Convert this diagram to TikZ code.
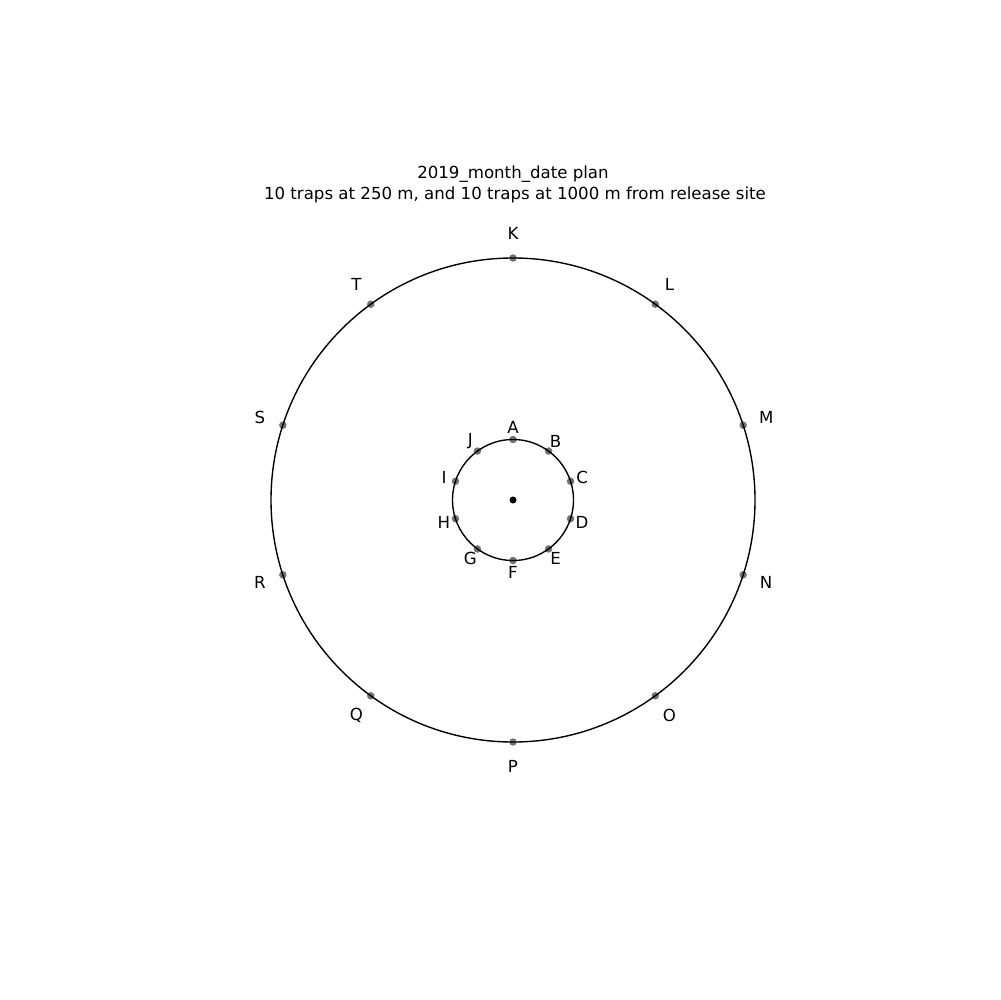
\documentclass[tikz,border=0pt]{standalone}
\usepackage{fontspec}
\setmainfont{DejaVu Sans}
\usetikzlibrary{calc}
\begin{document}
\begin{tikzpicture}[x=0.01in,y=-0.01in,
  lbl/.style={font=\fontsize{12}{14.4}\selectfont, inner sep=0pt, anchor=center},
  trap/.style={circle, fill=black!55, inner sep=0pt, minimum size=0.075in},
  ring/.style={draw=black, line width=1pt}]
\useasboundingbox (0,0) rectangle (1000,1000);
\coordinate (c) at (513,500);
% traps
\foreach \L [count=\k from 0] in {A,B,C,D,E,F,G,H,I,J}{
  \pgfmathsetmacro{\ang}{-90+36*\k}
  \node[trap] (t\L) at ($(c)+(\ang:60.5)$) {};
  \node[lbl] (l\L) at ($(c)+(\ang:72.6)$) {\L};
}
\foreach \L [count=\k from 0] in {K,L,M,N,O,P,Q,R,S,T}{
  \pgfmathsetmacro{\ang}{-90+36*\k}
  \node[trap] (t\L) at ($(c)+(\ang:242)$) {};
  \node[lbl] (l\L) at ($(c)+(\ang:266.2)$) {\L};
}
\draw[ring] (c) circle[radius=60.5];
\draw[ring] (c) circle[radius=242];
\node[circle, fill=black, inner sep=0pt, minimum size=0.07in] (release) at (c) {};
\node[lbl] (title1) at (513,174) {2019\_month\_date plan};
\node[lbl] (title2) at (515,195) {10 traps at 250 m, and 10 traps at 1000 m from release site};
\end{tikzpicture}
\end{document}
